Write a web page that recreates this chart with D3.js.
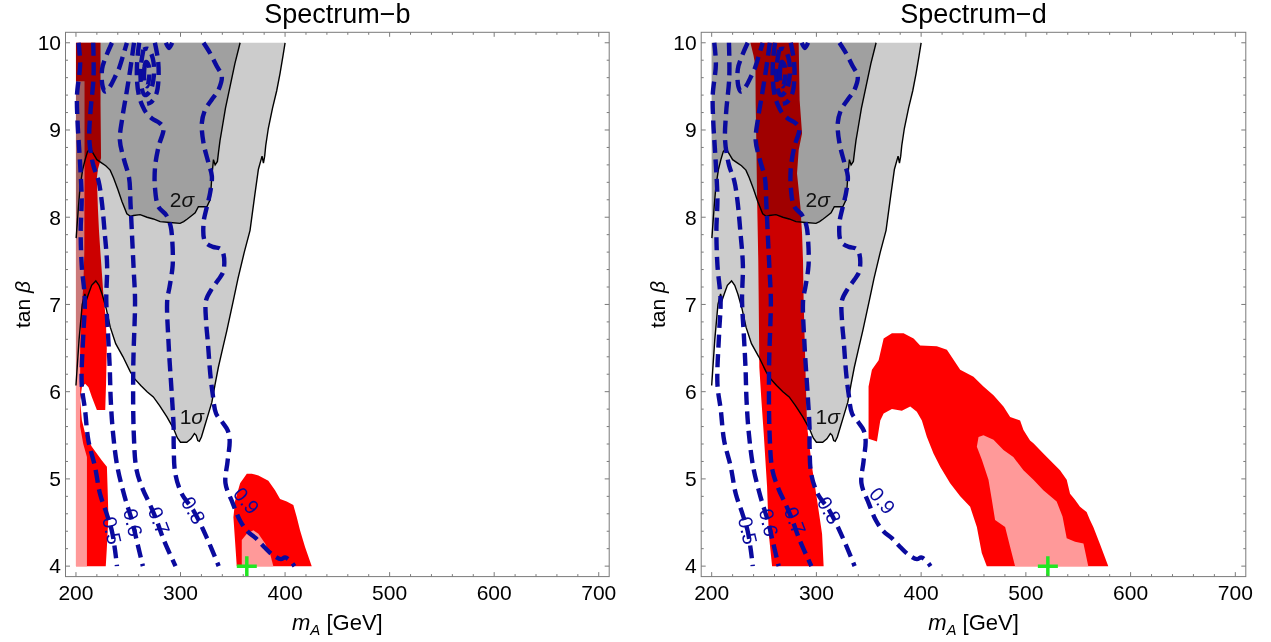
<!DOCTYPE html>
<html>
<head>
<meta charset="utf-8">
<script src="https://cdn.jsdelivr.net/npm/d3@7"></script>
<style>
  body { margin: 0; background: #fff; }
  svg text { font-family: "Liberation Sans", Arial, sans-serif; }
</style>
</head>
<body>
<svg id="chart" width="1271" height="642"></svg>
<script>
// ---- data (m_A in GeV, tan beta) ----
const xTicks = [200, 300, 400, 500, 600, 700];
const yTicks = [4, 5, 6, 7, 8, 9, 10];
const titles = ["Spectrum\u2212b", "Spectrum\u2212d"];

// black chi^2 contours (same in both panels)
const sigma1Line = [[200,6.07],[203,6.6],[206,7.0],[208.5,7.12],[210,7.05],[212,7.12],[215,7.22],[219,7.27],[222,7.22],[225,7.12],[229,6.95],[232.8,6.74],[238,6.55],[245,6.4],[251.9,6.23],[256,6.15],[262,6.07],[268,6.0],[274,5.94],[280,5.84],[287,5.71],[293.2,5.58],[297,5.47],[300,5.42],[306,5.42],[310,5.46],[313.3,5.52],[315,5.5],[316.5,5.44],[318,5.43],[320,5.48],[323,5.6],[326,5.72],[330,5.88],[333,6.08],[336.2,6.28],[340,6.48],[344.3,6.7],[350.6,7.05],[355,7.3],[361,7.6],[366.5,7.85],[371,8.25],[374.5,8.55],[378,8.7],[379.3,8.62],[380.5,8.7],[381.5,8.82],[384,9.02],[388,9.25],[392,9.45],[395.2,9.65],[398,9.85],[400,10]];
const sigma2Line = [[200.2,7.76],[202.4,8.12],[204,8.35],[206.5,8.55],[208.8,8.66],[211,8.75],[213.6,8.79],[217,8.72],[220,8.66],[224.8,8.62],[228.5,8.59],[232.7,8.54],[236,8.45],[240,8.32],[244,8.18],[248.7,8.04],[252,8.01],[255,8.02],[261.4,8.03],[268,8.0],[274,7.98],[280.5,7.95],[290,7.94],[299.6,7.93],[303,7.95],[306.5,7.98],[310.8,8.02],[314,8.05],[317.1,8.12],[321,8.12],[325.2,8.12],[328.3,8.2],[329.3,8.35],[330,8.47],[331.5,8.66],[333.1,8.6],[335.3,8.64],[336.3,8.74],[337.8,8.88],[339.5,9.0],[343,9.25],[347.4,9.5],[352,9.76],[357,10]];
const sigmaLabels = [["1", 310.8, 5.71], ["2", 301.3, 8.2]];

// dark-blue dashed contours (same in both panels)
const contour05 = [[202.5,10],[204,9.75],[201,9.4],[201.5,9.1],[203,8.8],[204.5,8.5],[205.5,8.2],[204.5,7.85],[205.5,7.45],[208.5,7.05],[207.1,6.67],[205.5,6.09],[208.7,5.79],[211.9,5.44],[218.2,5.14],[223,4.83],[229.4,4.6],[234.2,4.41],[237.4,4.18],[239.2,4.0]];
const contour06 = [[216.5,10],[216.8,9.6],[213.8,9.2],[212.8,8.88],[216.5,8.6],[221.5,8.42],[224.5,8.2],[227.5,7.82],[229.8,7.45],[229,7.05],[230.8,6.63],[232.3,6.28],[233.3,5.9],[235.5,5.52],[239.6,5.14],[246.5,4.8],[253.6,4.52],[258.8,4.26],[264,4.0]];
const contour07 = [[255.5,10],[252,9.7],[248,9.4],[244.5,9.15],[242,8.88],[246,8.66],[250.8,8.45],[252.2,8.15],[253.8,7.75],[255.2,7.4],[256.5,7.05],[254.8,6.28],[255.3,5.52],[258,5.1],[264,4.88],[271,4.7],[277,4.53],[284,4.3],[295.2,4.0]];
const contour08 = [[260.5,10],[258.5,9.78],[258.5,9.55],[260.5,9.38],[263.5,9.28],[267,9.2],[273,9.13],[280,9.08],[283.7,9.02],[279,8.81],[275.7,8.58],[275.5,8.35],[278.9,8.12],[286,8.03],[290.5,7.9],[292,7.75],[292.5,7.45],[289.5,7.2],[287.3,7.05],[288.6,6.55],[291.6,5.98],[293.4,5.6],[293.5,5.37],[295,5.06],[301.2,4.83],[312.3,4.64],[325,4.33],[336.5,4.0]];
const contour09 = [[322,10],[328.3,9.88],[334.7,9.73],[339.5,9.62],[336.3,9.46],[330,9.35],[323.5,9.23],[320.4,9.08],[322,8.85],[326.8,8.62],[330,8.47],[328.3,8.28],[325.2,8.12],[322,7.93],[323.5,7.72],[331,7.66],[338,7.64],[341,7.58],[341,7.38],[336,7.28],[330,7.18],[324.5,7.05],[324.5,6.8],[326,6.59],[328.5,6.2],[330.7,5.98],[334,5.75],[340,5.65],[345,5.56],[347,5.44],[345,5.2],[343,4.95],[350,4.72],[357,4.52],[364,4.4],[372,4.32],[380,4.22],[388,4.13],[396,4.08],[400,4.1],[405,4.06],[409,4.0]];
const loopV = [[234.4,10],[229,9.85],[225,9.7],[225.5,9.5],[228,9.44],[232.7,9.5],[237,9.6],[240.7,9.69],[245,9.85],[248.7,10]];
const loopRightArm = [[275.5,10],[278.5,9.8],[279,9.6],[277,9.42],[272,9.32],[268,9.3]];
const loopInner = [[264.5,9.92],[262,9.72],[262.5,9.5],[266,9.4],[271,9.45],[274.5,9.62],[273.5,9.82],[269,9.93],[264.5,9.92]];
const loopCore = [[265.5,9.72],[265.5,9.55],[268,9.5],[270,9.6],[269.5,9.74],[267,9.78],[265.5,9.72]];
const arcTop = [[286,10],[289,9.94],[292,10]];
const blueLines = [contour05, contour06, contour07, contour08, contour09, loopV, loopRightArm, loopInner, loopCore, arcTop];

const contourLevels = ["0.5", "0.6", "0.7", "0.8", "0.9"];
const contourLabelAt = [[234.4, 4.41], [254.5, 4.5], [279.5, 4.52], [312.3, 4.64], [363, 4.75]];

// red / pink allowed regions, Spectrum-b
const redB = [
  [[200,10],[223.5,10],[223.5,9.3],[224,8.68],[221,8.55],[220,8.45],[221,8.1],[222,7.85],[223.2,7.63],[224.8,7.36],[226.3,7.1],[228.5,6.85],[229.5,6.5],[228.8,6.1],[228,5.79],[220,5.79],[215.2,5.94],[212,6.05],[208.8,6.09],[205.7,6.05],[204,5.9],[205.7,5.67],[208.8,5.52],[215.2,5.37],[224.8,5.21],[229.6,5.14],[230.5,4.8],[231,4.56],[229.5,4.2],[228.5,4.0],[200,4.0]],
  [[353.8,4.0],[350.6,4.56],[352.2,4.75],[357,4.95],[363.4,5.06],[368.2,5.06],[374.5,5.04],[384,4.98],[390.4,4.87],[395.2,4.77],[401.6,4.74],[407.9,4.7],[411.2,4.56],[414.3,4.41],[419.1,4.22],[425.5,4.0]]
];
const pinkB = [
  [[200,9.56],[208.2,9.56],[208.2,8.6],[208,7.6],[207,7.2],[205,6.9],[204,6.5],[204,5.6],[207,5.4],[210.5,5.25],[210.5,4.0],[200,4.0]],
  [[358.6,4.0],[358.6,4.3],[363.4,4.37],[369.7,4.41],[374.5,4.37],[380.9,4.26],[385.7,4.14],[388.8,4.0]]
];
// red / pink allowed regions, Spectrum-d
const redD = [
  [[237,10],[283.1,10],[283.5,9.7],[284,9.34],[286.3,8.96],[283.1,8.77],[281.5,8.5],[284.7,8.12],[286.3,7.81],[287.2,7.5],[287.8,7.05],[289.5,6.28],[291.1,5.6],[295.8,5.14],[300.6,4.76],[305.4,4.37],[306.9,4.0],[257.7,4.0],[254.5,4.37],[252.9,4.91],[249.7,5.52],[247.5,5.9],[245.5,6.28],[244.9,7.05],[244.5,7.5],[243.4,8.2],[242.5,8.96],[242,9.3],[241.8,9.73],[240,9.85]],
  [[349.8,5.46],[349.8,6.06],[353,6.25],[359.4,6.36],[364.2,6.61],[372.1,6.67],[383.2,6.67],[392.8,6.61],[399.1,6.53],[415,6.52],[424.6,6.48],[437.3,6.25],[450,6.17],[459.5,6.06],[469.1,5.96],[478.6,5.83],[485,5.71],[494.5,5.67],[497.7,5.56],[504,5.44],[507.2,5.41],[516.7,5.29],[520,5.25],[532.6,5.1],[539,4.99],[542.2,4.83],[546.9,4.76],[551.7,4.68],[558,4.62],[561.2,4.53],[564.4,4.45],[570.8,4.25],[578.7,4.0],[462.7,4.0],[457.9,4.15],[453.2,4.45],[446.8,4.68],[437.3,4.8],[427.7,4.95],[418.2,5.14],[411.8,5.29],[405.5,5.48],[400.7,5.67],[395.9,5.77],[389.6,5.83],[381.6,5.78],[372.1,5.8],[364.2,5.75],[361,5.67],[357.8,5.43]]
];
const pinkD = [
  [[454.8,5.48],[459.5,5.5],[469.1,5.45],[478.6,5.33],[488,5.25],[497.7,5.1],[507.2,4.99],[516.7,4.87],[529.4,4.74],[535,4.57],[539,4.32],[547,4.28],[555,4.26],[559.6,4.0],[489.7,4.0],[485,4.22],[480.2,4.45],[470.6,4.53],[467.5,4.76],[464.3,4.99],[458,5.22],[453.2,5.37]]
];
const bestFit = [[363.4, 4.0], [521, 4.0]];

// ---- layout ----
const svg = d3.select("#chart");
const xDomain = [190, 710], yDomain = [3.88, 10.12];
const yTop = 32.3, yBot = 576.6;
const panels = [
  { x0: 65.5, x1: 609.2, red: redB, pink: pinkB, cross: bestFit[0], title: titles[0] },
  { x0: 701.2, x1: 1245.8, red: redD, pink: pinkD, cross: bestFit[1], title: titles[1] }
];
const labelAngle = [77, 77, 69, 60, 50];
const frameColor = "#7a7a7a";
const blue = "#0a0a9e";

panels.forEach(p => {
  const x = d3.scaleLinear().domain(xDomain).range([p.x0, p.x1]);
  const y = d3.scaleLinear().domain(yDomain).range([yBot, yTop]);
  const line = d3.line().x(d => x(d[0])).y(d => y(d[1]));
  const smooth = d3.line().x(d => x(d[0])).y(d => y(d[1])).curve(d3.curveCatmullRom.alpha(0.5));
  const g = svg.append("g");

  // gray chi^2 regions
  g.append("path").attr("d", line(sigma1Line.concat([[200, 10]])) + "Z").attr("fill", "#cccccc");
  g.append("path").attr("d", line(sigma2Line.concat([[200, 10]])) + "Z").attr("fill", "#a0a0a0");

  // red regions, multiplied over the gray
  const rg = g.append("g").style("mix-blend-mode", "multiply");
  p.red.forEach(poly => rg.append("path").attr("d", line(poly) + "Z").attr("fill", "#ff0000"));
  p.pink.forEach(poly => rg.append("path").attr("d", line(poly) + "Z").attr("fill", "#ff9999"));

  // black contours
  [sigma1Line, sigma2Line].forEach(l => {
    g.append("path").attr("d", line(l)).attr("fill", "none")
      .attr("stroke", "#000").attr("stroke-width", 1.4);
  });
  sigmaLabels.forEach(s => {
    const t = g.append("text").attr("x", x(s[1])).attr("y", y(s[2]))
      .attr("text-anchor", "middle").attr("dy", "0.35em")
      .attr("font-size", 21).attr("fill", "#111");
    t.append("tspan").text(s[0]);
    t.append("tspan").attr("font-style", "italic").text("\u03c3");
  });

  // dashed contours
  blueLines.forEach(l => {
    g.append("path").attr("d", smooth(l)).attr("fill", "none")
      .attr("stroke", blue).attr("stroke-width", 4.4)
      .attr("stroke-dasharray", "13,6.5").attr("stroke-linecap", "butt");
  });
  contourLevels.forEach((lev, i) => {
    const px = x(contourLabelAt[i][0]), py = y(contourLabelAt[i][1]);
    g.append("text").attr("transform", `translate(${px},${py}) rotate(${labelAngle[i]})`)
      .attr("text-anchor", "middle").attr("dy", "0.35em")
      .attr("font-size", 20).attr("fill", blue).text(lev);
  });

  // best fit point
  const cx = x(p.cross[0]), cy = y(p.cross[1]);
  g.append("path").attr("d", `M${cx - 10},${cy}H${cx + 10}M${cx},${cy - 10}V${cy + 10}`)
    .attr("stroke", "#22e622").attr("stroke-width", 3.5);

  // frame with inward ticks
  g.append("rect").attr("x", p.x0).attr("y", yTop).attr("width", p.x1 - p.x0).attr("height", yBot - yTop)
    .attr("fill", "none").attr("stroke", frameColor).attr("stroke-width", 1);
  const tk = g.append("g").attr("stroke", frameColor).attr("stroke-width", 1);
  x.ticks(26).forEach(v => {
    const len = xTicks.includes(v) ? 4.5 : 2.5;
    tk.append("line").attr("x1", x(v)).attr("x2", x(v)).attr("y1", yBot).attr("y2", yBot - len);
    tk.append("line").attr("x1", x(v)).attr("x2", x(v)).attr("y1", yTop).attr("y2", yTop + len);
  });
  y.ticks(30).forEach(v => {
    const len = yTicks.some(t => Math.abs(t - v) < 1e-6) ? 4.5 : 2.5;
    tk.append("line").attr("y1", y(v)).attr("y2", y(v)).attr("x1", p.x0).attr("x2", p.x0 + len);
    tk.append("line").attr("y1", y(v)).attr("y2", y(v)).attr("x1", p.x1).attr("x2", p.x1 - len);
  });

  // tick labels
  xTicks.forEach(v => {
    g.append("text").attr("x", x(v)).attr("y", 600).attr("text-anchor", "middle")
      .attr("font-size", 21).attr("fill", "#000").text(v);
  });
  yTicks.forEach(v => {
    g.append("text").attr("x", p.x0 - 4.5).attr("y", y(v)).attr("dy", "0.35em")
      .attr("text-anchor", "end").attr("font-size", 21).attr("fill", "#000").text(v);
  });

  // titles and axis labels
  const mid = (p.x0 + p.x1) / 2;
  g.append("text").attr("x", mid).attr("y", 23).attr("text-anchor", "middle")
    .attr("font-size", 27).attr("fill", "#000").text(p.title);
  const xl = g.append("text").attr("x", mid).attr("y", 630).attr("text-anchor", "middle")
    .attr("font-size", 22).attr("fill", "#000");
  xl.append("tspan").attr("font-style", "italic").text("m");
  xl.append("tspan").attr("font-style", "italic").attr("font-size", 15).attr("dy", 5).text("A");
  xl.append("tspan").attr("dy", -5).text(" [GeV]");
  const yl = g.append("text").attr("transform", `translate(${p.x0 - 36},${(yTop + yBot) / 2}) rotate(-90)`)
    .attr("text-anchor", "middle").attr("font-size", 21).attr("fill", "#000");
  yl.append("tspan").text("tan ");
  yl.append("tspan").attr("font-style", "italic").text("\u03b2");
});
</script>
</body>
</html>
